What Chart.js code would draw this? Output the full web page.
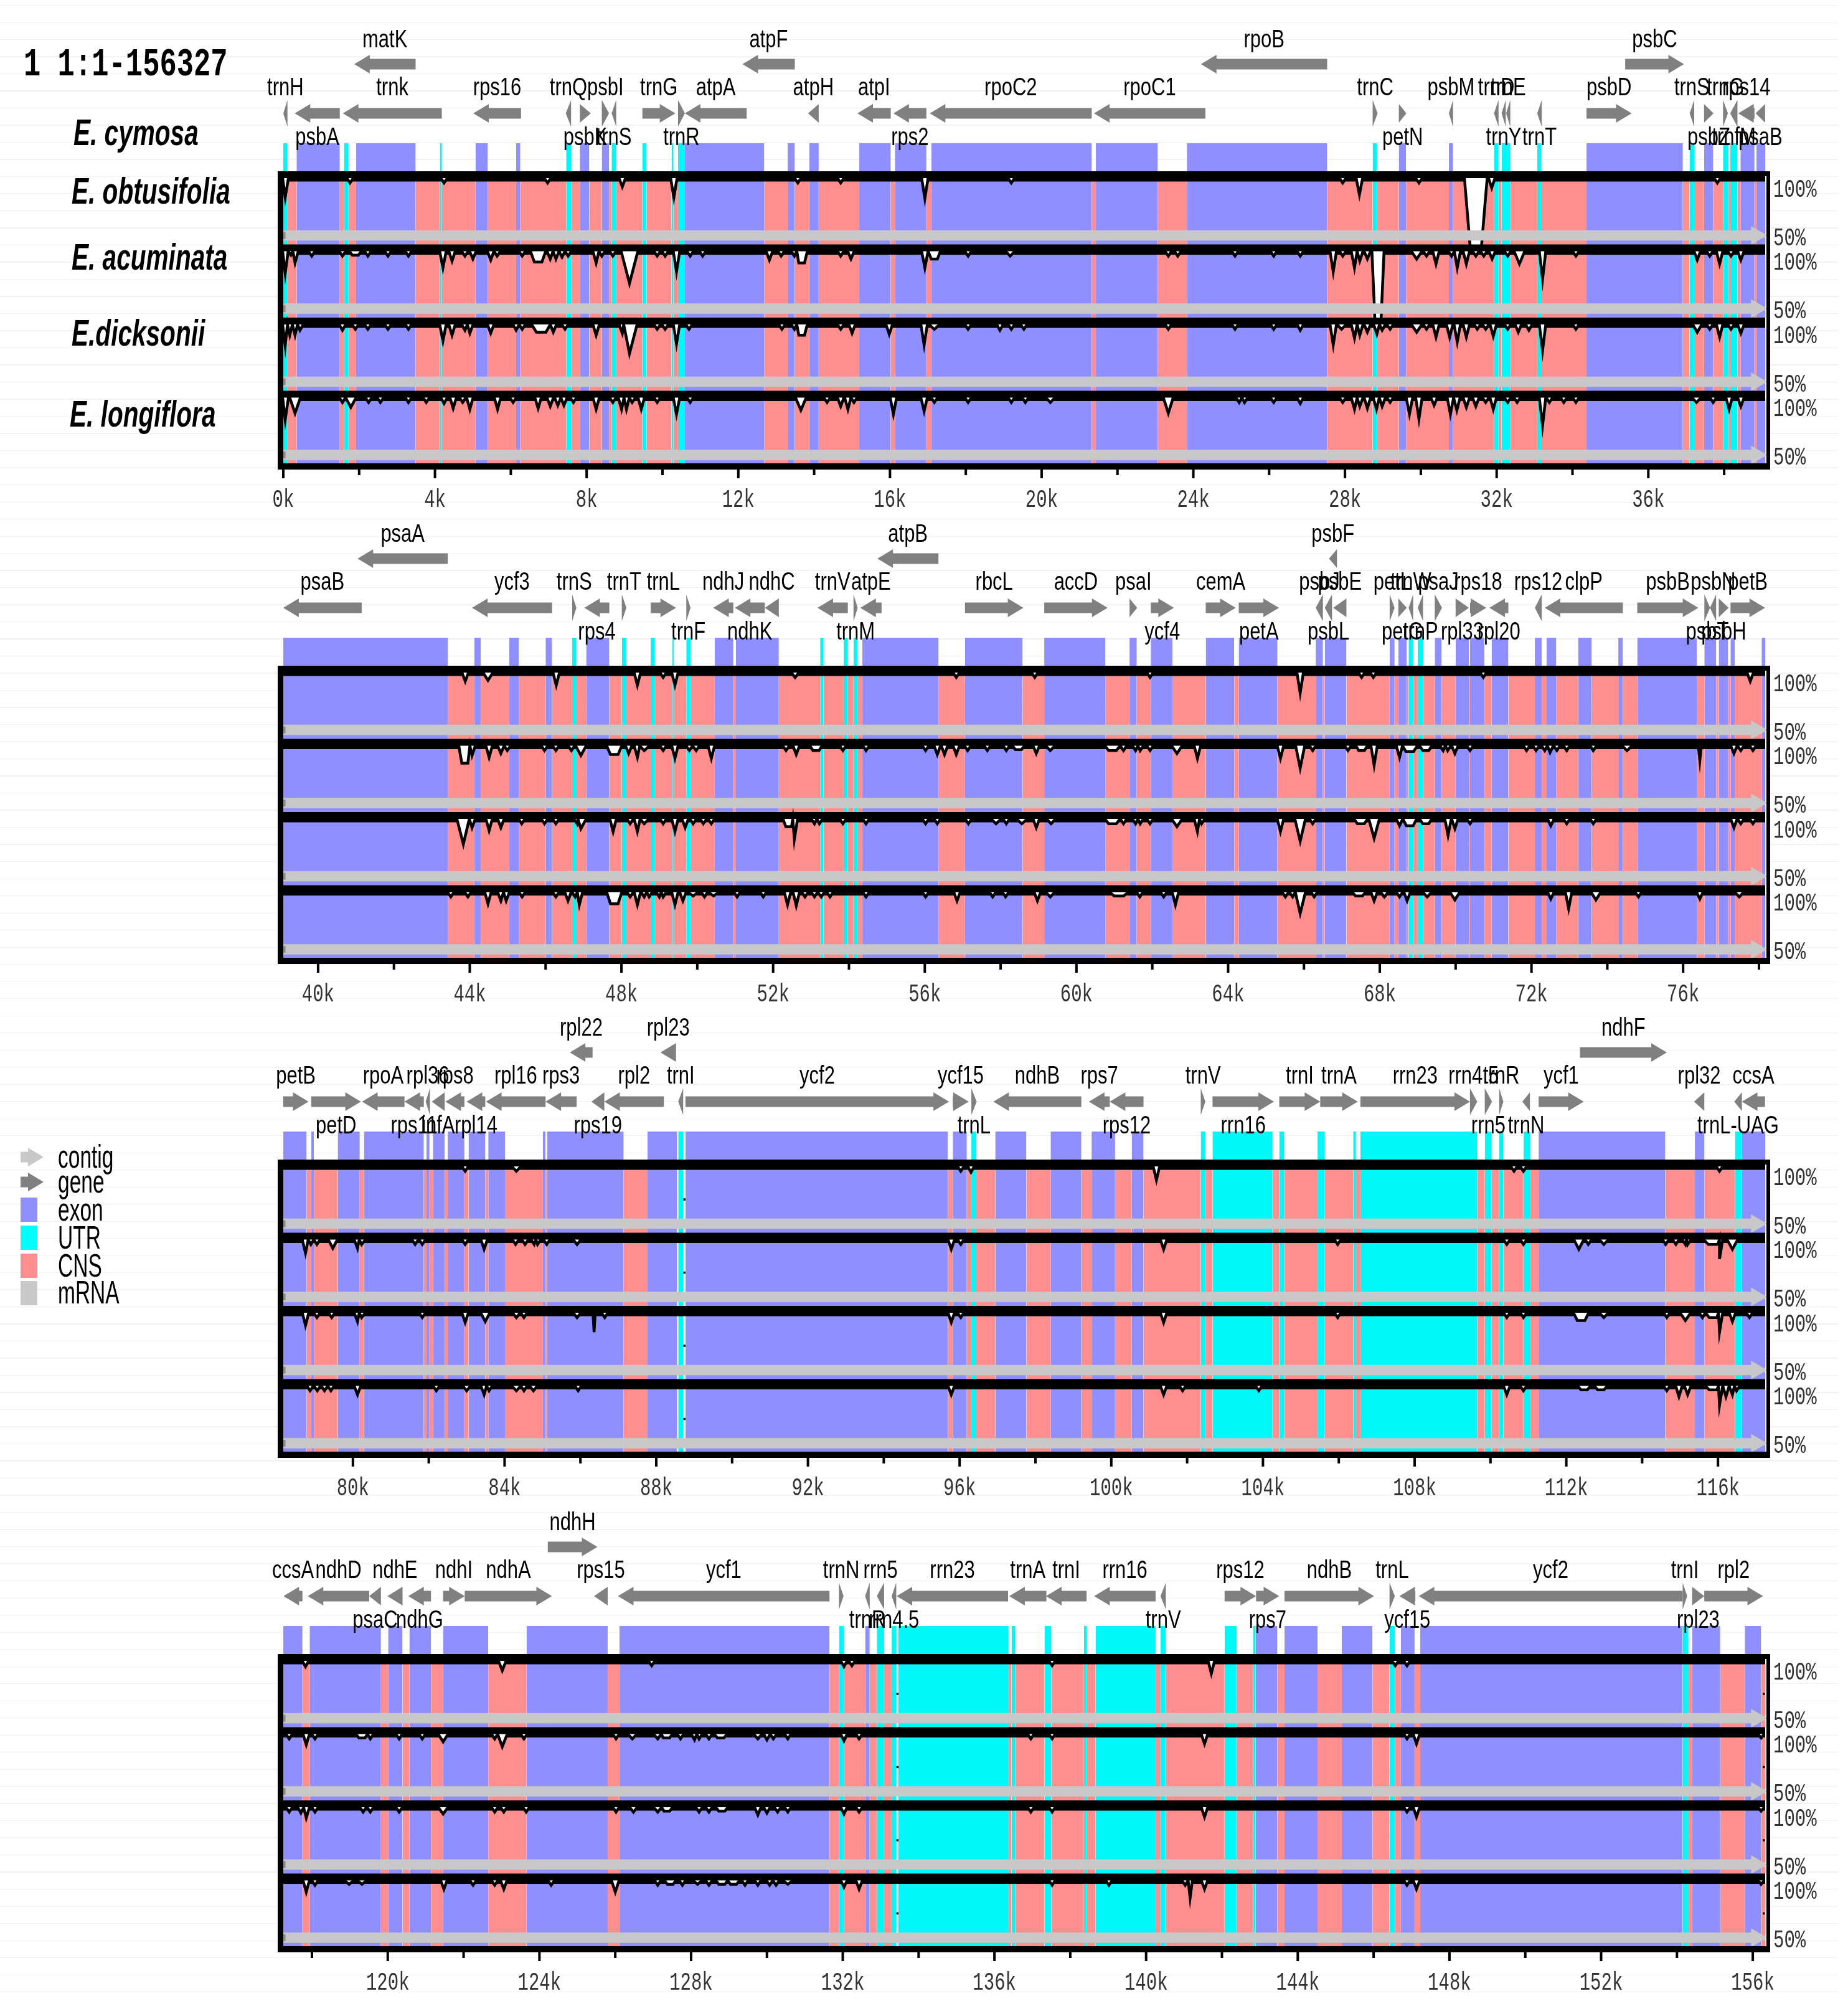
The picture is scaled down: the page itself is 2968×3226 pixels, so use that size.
<!DOCTYPE html>
<html>
<head>
<meta charset="utf-8">
<title>mVISTA plot</title>
<script src="https://cdn.jsdelivr.net/npm/chart.js@4/dist/chart.umd.min.js"></script>
<style>
  html, body { margin: 0; padding: 0; background: #fff; }
  #page { position: relative; width: 2968px; height: 3226px; overflow: hidden; }
  #rules {
    position: absolute; left: 0; top: 8px; width: 2953px; height: 3218px;
    background: repeating-linear-gradient(to bottom, #f2f2f2 0, #f2f2f2 1px, transparent 1px, transparent 27.5px);
  }
  canvas { position: absolute; left: 0; }
</style>
</head>
<body>
<div id="page"><div id="rules"></div></div>
<script>
// values are in kb along the plastome, conservation in %
const species = ["E. cymosa", "E. obtusifolia", "E. acuminata", "E.dicksonii", "E. longiflora"];
const pctTicks = [100, 50];
const ranges = [[0, 39.082], [39.082, 78.164], [78.164, 117.245], [117.245, 156.327]];
const kTicks1 = [0, 2, 4, 6, 8, 10, 12, 14, 16, 18, 20, 22, 24, 26, 28, 30, 32, 34, 36, 38];
const kTicks2 = [40, 42, 44, 46, 48, 50, 52, 54, 56, 58, 60, 62, 64, 66, 68, 70, 72, 74, 76, 78];
const kTicks3 = [80, 82, 84, 86, 88, 90, 92, 94, 96, 98, 100, 102, 104, 106, 108, 110, 112, 114, 116];
const kTicks4 = [118, 120, 122, 124, 126, 128, 130, 132, 134, 136, 138, 140, 142, 144, 146, 148, 150, 152, 154, 156];

// ------- genes: [name, tail, tip] -------
const top1 = [["matK", 3.49, 1.87], ["atpF", 13.49, 12.11], ["rpoB", 27.53, 24.2], ["psbC", 35.39, 36.94]];
const above1 = [["trnH", 0.11, 0], ["trnk", 4.18, 1.57], ["rps16", 6.27, 5.01], ["trnQ", 7.59, 7.45], ["psbI", 8.4, 8.59], ["trnG", 9.47, 10.34], ["atpA", 12.22, 10.59], ["atpH", 14.12, 13.84], ["atpI", 16.02, 15.14], ["rpoC2", 21.32, 17.05], ["rpoC1", 24.32, 21.38], ["trnC", 28.73, 28.86], ["psbM", 30.85, 30.74], ["trnD", 32.05, 31.93], ["trnE", 32.36, 32.25], ["psbD", 34.37, 35.56], ["trnS", 37.21, 37.09], ["trnG", 37.97, 38.1], ["rps14", 38.8, 38.37]];
const below1 = [["psbA", 1.49, 0.3], ["psbK", 7.82, 8.11], ["trnS", 8.78, 8.66], ["trnR", 10.41, 10.59], ["rps2", 16.96, 16.09], ["petN", 29.42, 29.62], ["trnY", 32.24, 32.13], ["trnT", 33.19, 33.07], ["psbZ", 37.47, 37.72], ["trnfM", 38.35, 38.16], ["psaB", 39.08, 38.83]];

const top2 = [["psaA", 43.42, 41.04], ["atpB", 56.36, 54.75], ["psbF", 66.87, 66.66]];
const above2 = [["psaB", 41.15, 39.08], ["ycf3", 46.17, 44.06], ["trnS", 46.7, 46.81], ["trnT", 48.01, 48.13], ["trnL", 48.77, 49.44], ["ndhJ", 50.95, 50.42], ["ndhC", 52.15, 51.78], ["trnV", 53.97, 53.17], ["atpE", 54.86, 54.3], ["rbcL", 57.06, 58.6], ["accD", 59.15, 60.82], ["psaI", 61.4, 61.6], ["cemA", 63.41, 64.2], ["psbJ", 66.5, 66.31], ["psbE", 67.12, 66.77], ["petL", 68.26, 68.39], ["trnW", 68.88, 68.76], ["psaJ", 69.45, 69.64], ["rps18", 70.38, 70.81], ["rps12", 72.27, 72.09], ["clpP", 74.41, 72.35], ["psbB", 74.79, 76.4], ["psbN", 76.87, 76.71], ["petB", 77.25, 78.16]];
const below2 = [["rps4", 47.68, 47.02], ["trnF", 49.71, 49.82], ["ndhK", 51.78, 50.99], ["trnM", 54.12, 54.23], ["ycf4", 61.96, 62.57], ["petA", 64.28, 65.34], ["psbL", 66.74, 66.55], ["petG", 68.49, 68.71], ["trnP", 69.14, 69.0], ["rpl33", 70.0, 70.35], ["rpl20", 71.39, 70.89], ["psbT", 76.56, 76.71], ["psbH", 76.94, 77.2]];

const top3 = [["rpl22", 86.32, 85.72], ["rpl23", 88.52, 88.11], ["ndhF", 112.36, 114.65]];
const above3 = [["petB", 78.16, 78.83], ["rpoA", 81.36, 80.24], ["rpl36", 82.03, 81.92], ["rps8", 82.94, 82.44], ["rpl16", 85.08, 83.51], ["rps3", 85.9, 85.08], ["rpl2", 88.2, 86.63], ["trnI", 88.71, 88.58], ["ycf2", 88.77, 95.72], ["ycf15", 95.82, 96.24], ["ndhB", 99.21, 96.89], ["rps7", 99.96, 99.41], ["trnV", 102.36, 102.48], ["trnI", 104.43, 105.51], ["trnA", 105.51, 106.5], ["rrn23", 106.57, 109.46], ["rrn4.5", 109.46, 109.65], ["trnR", 110.23, 110.34], ["ycf1", 111.27, 112.46], ["rpl32", 115.64, 115.37], ["ccsA", 117.24, 116.63]];
const below3 = [["petD", 78.9, 80.21], ["rps11", 81.87, 81.36], ["infA", 82.42, 82.08], ["rpl14", 83.49, 83.0], ["rps19", 86.63, 86.29], ["trnL", 96.31, 96.45], ["rps12", 100.85, 99.96], ["rrn16", 102.67, 104.29], ["rrn5", 109.85, 110.04], ["trnN", 111.04, 110.84], ["trnL-UAG", 116.63, 116.43]];

const top4 = [["ndhH", 124.22, 125.53]];
const above4 = [["ccsA", 117.75, 117.25], ["ndhD", 119.51, 117.89], ["ndhE", 120.39, 119.99], ["ndhI", 121.46, 122.03], ["ndhA", 122.03, 124.33], ["rps15", 125.8, 125.44], ["ycf1", 131.65, 126.07], ["trnN", 131.9, 132.02], ["rrn5", 133.09, 132.9], ["rrn23", 136.36, 133.42], ["trnA", 137.37, 136.39], ["trnI", 138.43, 137.36], ["rrn16", 140.25, 138.63], ["rps12", 142.07, 142.9], ["ndhB", 143.65, 146.01], ["trnL", 146.42, 146.56], ["ycf2", 154.15, 147.19], ["trnI", 154.15, 154.27], ["rpl2", 154.72, 156.27]];
const below4 = [["psaC", 119.82, 119.51], ["ndhG", 121.14, 120.54], ["trnR", 132.71, 132.59], ["rrn4.5", 133.41, 133.29], ["trnV", 140.52, 140.38], ["rps7", 142.9, 143.51], ["ycf15", 147.1, 146.68], ["rpl23", 154.4, 154.72]];

// ------- annotated bands: [start, end] -------
const exon1 = [[0.35, 1.49], [1.92, 3.49], [5.07, 5.39], [6.14, 6.25], [7.82, 8.07], [8.4, 8.59], [10.59, 12.68], [13.3, 13.49], [13.87, 14.12], [15.19, 16.02], [16.13, 16.96], [17.09, 21.32], [21.43, 23.06], [23.83, 27.53], [29.42, 29.61], [30.74, 30.85], [34.37, 36.91], [37.47, 37.71], [38.43, 38.8], [38.85, 39.082]];
const utr1 = [[0, 0.1], [1.6, 1.71], [4.13, 4.18], [7.46, 7.59], [8.66, 8.77], [9.47, 9.58], [10.24, 10.29], [10.41, 10.59], [28.73, 28.84], [31.93, 32.05], [32.13, 32.36], [33.07, 33.17], [37.09, 37.21], [37.97, 38.1], [38.16, 38.35]];
const cns1 = [[0.1, 0.35], [1.49, 1.6], [1.71, 1.92], [3.49, 4.13], [4.18, 5.07], [5.39, 6.14], [6.25, 7.46], [7.59, 7.82], [8.07, 8.4], [8.59, 8.66], [8.77, 9.47], [9.58, 10.24], [10.29, 10.41], [12.68, 13.3], [13.49, 13.87], [14.12, 15.19], [16.02, 16.13], [16.96, 17.09], [21.32, 21.43], [23.06, 23.83], [27.53, 28.73], [28.84, 29.42], [29.61, 30.74], [30.85, 31.93], [32.05, 32.13], [32.36, 33.07], [33.17, 34.37], [36.91, 37.09], [37.21, 37.47], [37.71, 37.97], [38.1, 38.16], [38.35, 38.43], [38.8, 38.85]];

const exon2 = [[39.082, 43.42], [44.12, 44.29], [45.04, 45.29], [46.0, 46.17], [47.07, 47.68], [50.46, 50.95], [51.02, 52.15], [54.35, 56.36], [57.06, 58.58], [59.15, 60.76], [61.4, 61.59], [61.96, 62.53], [63.41, 64.16], [64.28, 65.3], [66.31, 66.5], [66.55, 67.12], [68.26, 68.39], [68.49, 68.71], [69.45, 69.63], [70.0, 70.35], [70.38, 70.76], [70.95, 71.39], [72.09, 72.27], [72.4, 72.65], [73.23, 73.59], [74.29, 74.41], [74.79, 76.36], [76.56, 76.87], [76.94, 77.18], [77.25, 77.36], [78.07, 78.164]];
const utr2 = [[46.7, 46.8], [48.01, 48.13], [48.77, 48.87], [49.34, 49.38], [49.71, 49.82], [53.24, 53.33], [53.86, 53.97], [54.12, 54.22], [68.76, 68.88], [69.0, 69.14]];
const cns2 = [[43.42, 44.12], [44.29, 45.04], [45.29, 46.0], [46.17, 46.7], [46.8, 47.07], [47.68, 48.01], [48.13, 48.77], [48.87, 49.34], [49.38, 49.71], [49.82, 50.46], [50.95, 51.02], [52.15, 53.24], [53.33, 53.86], [53.97, 54.12], [54.22, 54.35], [56.36, 57.06], [58.58, 59.15], [60.76, 61.4], [61.59, 61.96], [62.53, 63.41], [64.16, 64.28], [65.3, 66.31], [66.5, 66.55], [67.12, 68.26], [68.39, 68.49], [68.71, 68.76], [68.88, 69.0], [69.14, 69.45], [69.63, 70.0], [70.35, 70.38], [70.76, 70.95], [71.39, 72.09], [72.27, 72.4], [72.65, 73.23], [73.59, 74.29], [74.41, 74.79], [76.36, 76.56], [76.87, 76.94], [77.18, 77.25], [77.36, 78.07]];

const exon3 = [[78.164, 78.78], [78.9, 78.97], [79.6, 80.18], [80.29, 81.87], [81.94, 82.02], [82.11, 82.42], [82.5, 82.94], [83.05, 83.49], [83.57, 84.01], [85.01, 85.08], [85.12, 87.14], [87.77, 88.55], [88.77, 95.69], [95.82, 96.19], [96.94, 97.76], [98.4, 99.21], [99.48, 100.1], [100.54, 100.85], [111.27, 114.61], [115.39, 115.64], [116.63, 117.245]];
const utr3 = [[88.58, 88.71], [96.31, 96.44], [102.36, 102.48], [102.67, 104.25], [104.43, 104.56], [105.44, 105.63], [106.38, 106.44], [106.57, 109.65], [109.85, 110.03], [110.23, 110.34], [110.87, 111.04], [116.45, 116.63]];
const cns3 = [[78.78, 78.9], [78.97, 79.6], [80.18, 80.29], [81.87, 81.94], [82.02, 82.11], [82.42, 82.5], [82.94, 83.05], [83.49, 83.57], [84.01, 85.01], [85.08, 85.12], [87.14, 87.77], [95.69, 95.82], [96.19, 96.31], [96.44, 96.94], [97.76, 98.4], [99.21, 99.48], [100.1, 100.54], [100.85, 102.36], [102.48, 102.67], [104.25, 104.43], [104.56, 105.44], [105.63, 106.38], [106.44, 106.57], [109.65, 109.85], [110.03, 110.23], [110.34, 110.87], [111.04, 111.27], [114.61, 115.39], [115.64, 116.45]];

const exon4 = [[117.245, 117.75], [117.94, 119.82], [120.01, 120.39], [120.57, 121.14], [121.46, 122.65], [123.66, 125.8], [126.11, 131.65], [132.59, 132.71], [142.89, 143.46], [143.65, 144.52], [145.16, 145.97], [146.72, 147.08], [147.23, 154.15], [154.4, 155.14], [155.79, 156.22]];
const utr4 = [[131.9, 132.03], [132.9, 133.09], [133.29, 133.41], [133.46, 136.36], [136.45, 136.55], [137.32, 137.5], [138.36, 138.43], [138.67, 140.25], [140.38, 140.52], [142.07, 142.39], [142.82, 142.89], [146.42, 146.56], [154.15, 154.29]];
const cns4 = [[117.75, 117.94], [119.82, 120.01], [120.39, 120.57], [121.14, 121.46], [122.65, 123.66], [125.8, 126.11], [131.65, 131.9], [132.03, 132.59], [132.71, 132.9], [133.09, 133.29], [136.36, 136.45], [136.55, 137.32], [137.5, 138.36], [138.43, 138.67], [140.25, 140.38], [140.52, 142.07], [142.39, 142.82], [143.46, 143.65], [144.52, 145.16], [145.97, 146.42], [146.56, 146.72], [147.08, 147.23], [154.29, 154.4], [155.14, 155.79], [156.22, 156.327]];

// ------- conservation dips: [position, %, half width] -------
const dips1obt = [[0.05, 80], [1.76, 95], [4.24, 95], [6.97, 95], [8.94, 91], [10.3, 80], [13.57, 95], [14.7, 95], [16.92, 79], [19.2, 95], [27.94, 95], [28.38, 83], [29.95, 95], [31.45, 30, 0.3], [31.87, 90], [37.82, 95]];
const dips1acu = [[0.05, 77], [0.2, 96, 0.08], [0.31, 88], [0.75, 95], [1.56, 95], [1.9, 96, 0.16], [2.23, 95], [2.76, 95], [3.3, 95], [4.21, 83], [4.45, 90], [4.79, 95], [5.0, 92], [5.47, 91], [5.64, 95], [6.3, 95], [6.72, 89, 0.2], [7.04, 92], [7.19, 92], [7.35, 94], [7.51, 95], [8.25, 88], [8.4, 95], [8.69, 95], [9.13, 67, 0.22], [9.86, 95], [10.07, 95], [10.37, 79], [10.73, 95], [11.06, 95], [12.82, 91], [13.13, 95], [13.48, 95], [13.67, 88, 0.15], [14.7, 95], [14.97, 92], [16.92, 83], [17.17, 92, 0.16], [18.06, 95], [19.17, 95, 0.12], [23.34, 95], [23.59, 95], [25.1, 95], [26.12, 95], [26.82, 95], [27.69, 79], [27.94, 95], [28.25, 83], [28.39, 90], [28.59, 92], [28.87, 28, 0.16], [29.89, 92, 0.14], [30.15, 95], [30.4, 87], [30.81, 95], [30.96, 83], [31.2, 87], [31.45, 95], [31.66, 95], [31.88, 92], [32.29, 95], [32.6, 87, 0.14], [33.21, 71], [34.09, 95], [37.29, 91], [37.62, 95], [37.88, 87], [38.18, 95], [38.44, 91]];
const dips1dic = [[0.05, 78], [0.17, 89], [0.31, 89], [0.44, 94], [1.56, 94], [1.9, 95], [2.23, 95], [2.76, 95], [3.3, 95], [4.21, 83], [4.45, 89], [4.79, 94], [4.92, 91], [5.47, 91], [6.14, 94], [6.3, 95], [6.8, 92, 0.25], [7.12, 92], [7.43, 95], [8.25, 89], [8.94, 91], [9.13, 70, 0.2], [9.86, 95], [10.07, 95], [10.37, 80], [10.7, 95], [13.15, 95], [13.48, 95], [13.67, 89, 0.15], [14.7, 95], [15.0, 91], [15.98, 90], [16.9, 79], [17.17, 95, 0.14], [18.06, 95], [18.9, 94], [19.2, 95], [19.53, 95], [23.34, 95], [25.1, 95], [26.12, 95], [26.82, 94], [27.69, 79], [27.91, 95, 0.12], [28.25, 86], [28.39, 89], [28.59, 92], [28.84, 90], [28.98, 94], [29.19, 95], [29.89, 92, 0.14], [30.15, 95], [30.4, 87], [30.76, 87], [30.96, 82], [31.2, 87], [31.49, 95], [31.71, 95], [31.91, 88], [32.29, 95], [32.57, 92], [32.85, 94], [33.21, 73], [34.09, 95], [37.29, 92, 0.12], [37.62, 95], [37.88, 87], [38.18, 95], [38.44, 91]];
const dips1lon = [[0.05, 77], [0.31, 84, 0.14], [1.56, 95], [1.78, 90, 0.14], [2.25, 95], [2.56, 95], [3.3, 95], [3.77, 95], [4.24, 94], [4.48, 89], [4.73, 95], [4.92, 88], [5.65, 88], [6.06, 95], [6.72, 89], [7.04, 91], [7.24, 92], [7.4, 92], [7.65, 95], [8.25, 88], [8.69, 95], [8.92, 88], [9.05, 88], [9.2, 95], [9.44, 88], [9.86, 95], [10.37, 83], [10.73, 95], [13.65, 87, 0.14], [14.34, 95], [14.7, 91], [14.89, 88], [15.05, 95], [16.09, 83], [16.9, 86], [17.17, 95], [18.06, 95], [19.2, 95], [19.57, 95], [20.23, 95, 0.12], [23.34, 84, 0.13], [25.21, 95], [25.35, 95], [26.12, 95], [26.82, 94], [27.94, 95], [28.25, 88], [28.39, 91], [28.59, 89], [28.83, 88], [28.98, 91], [29.19, 95], [29.7, 83], [29.95, 78], [30.35, 92], [30.78, 83], [30.95, 87], [31.2, 90], [31.45, 91], [31.71, 95], [31.91, 88], [32.29, 95], [32.54, 95], [33.21, 71], [33.39, 95], [33.77, 95], [34.09, 95], [37.27, 95, 0.12], [37.71, 95], [38.13, 88], [38.44, 91]];

const dips2obt = [[43.88, 91], [44.48, 92, 0.13], [46.28, 87], [48.42, 87], [49.1, 95], [49.41, 87], [52.58, 95, 0.1], [56.83, 95], [58.9, 95], [61.94, 95], [65.9, 79], [67.52, 95], [67.83, 95], [70.73, 95], [77.77, 91]];
const dips2acu = [[43.87, 82, 0.16], [44.06, 90], [44.51, 88], [44.82, 92], [44.99, 95], [45.97, 95], [46.27, 95], [46.68, 95], [46.93, 90, 0.14], [47.81, 91, 0.2], [48.19, 92], [48.42, 88], [48.6, 95, 0.14], [49.1, 95], [49.41, 87], [49.79, 95], [49.97, 95], [50.37, 87], [52.34, 95], [52.61, 91], [53.13, 95, 0.16], [53.84, 95], [54.45, 95], [56.02, 95], [56.33, 91], [56.52, 91], [56.83, 91], [57.13, 95], [57.65, 95], [58.15, 95], [58.47, 96, 0.16], [58.94, 92], [59.31, 95, 0.12], [60.95, 95, 0.2], [61.24, 95], [61.56, 95], [61.68, 95], [61.94, 95], [62.65, 92, 0.14], [63.19, 87], [65.38, 87], [65.9, 77, 0.12], [66.23, 95], [67.16, 95], [67.52, 95, 0.15], [67.85, 80], [68.52, 88], [68.79, 94, 0.2], [69.21, 95, 0.16], [69.67, 95], [69.79, 95], [69.98, 92], [70.38, 95], [71.87, 95], [72.12, 95], [72.35, 95], [72.49, 93], [72.67, 95], [72.93, 95], [73.63, 95], [74.52, 95, 0.13], [76.44, 85, 0.04], [77.34, 92], [77.52, 95], [77.84, 95]];
const dips2dic = [[43.83, 74, 0.17], [44.06, 91], [44.51, 88], [44.82, 91], [45.37, 95], [45.97, 95], [46.27, 95], [46.83, 95], [46.93, 90, 0.14], [47.78, 87], [48.23, 95], [48.42, 87], [48.6, 95, 0.12], [49.1, 95], [49.41, 87], [49.68, 91], [49.89, 95], [50.16, 95], [50.37, 95], [52.41, 92, 0.15], [52.56, 79], [53.09, 95], [53.22, 95], [53.84, 95], [54.45, 95], [56.02, 95], [56.33, 95], [57.15, 95], [57.88, 95, 0.13], [58.15, 95], [58.56, 95, 0.14], [58.94, 91], [59.33, 95, 0.12], [60.95, 95, 0.2], [61.24, 95], [61.56, 95], [61.68, 95], [61.94, 95], [62.65, 92, 0.14], [63.19, 87], [63.3, 95], [65.38, 87], [65.9, 77, 0.14], [66.23, 95], [67.5, 95, 0.18], [67.85, 80, 0.14], [68.52, 93], [68.79, 93, 0.18], [69.21, 95, 0.16], [69.8, 83], [69.98, 90], [70.38, 95], [72.51, 93], [72.93, 95], [73.63, 95], [77.34, 91], [77.52, 95], [77.84, 95]];
const dips2lon = [[43.5, 95], [43.95, 95], [44.48, 88], [44.82, 91], [44.96, 91], [45.38, 95], [46.27, 95], [46.59, 91], [46.78, 95], [46.89, 87], [47.81, 88, 0.2], [48.23, 95], [48.42, 87], [48.6, 95], [48.73, 95], [49.0, 95], [49.1, 95], [49.41, 87], [49.62, 91], [49.89, 96, 0.14], [50.19, 95], [50.43, 96, 0.14], [51.05, 95], [51.74, 95], [52.38, 87], [52.61, 86], [52.84, 95], [53.09, 95], [53.27, 95], [53.5, 95], [54.45, 95], [56.02, 95], [56.85, 91], [57.79, 95], [58.13, 95], [58.97, 91], [59.31, 95, 0.12], [61.12, 96, 0.25], [61.67, 95], [62.3, 95], [62.61, 87], [65.51, 95], [65.7, 95], [65.9, 78, 0.14], [66.27, 95], [67.45, 96, 0.18], [67.85, 91], [68.12, 95, 0.1], [68.52, 95], [68.72, 91], [69.25, 95, 0.12], [69.98, 92, 0.13], [72.51, 93], [72.98, 83], [73.7, 92, 0.13], [74.82, 95], [76.44, 93], [77.48, 95, 0.12]];

const dips3obt = [[82.96, 95], [84.31, 95, 0.12], [96.03, 95], [96.3, 94], [101.19, 86], [110.62, 95], [110.87, 95], [116.04, 95]];
const dips3acu = [[78.75, 86], [78.89, 95], [79.05, 95], [79.47, 91, 0.12], [80.12, 91], [80.23, 95, 0.1], [81.64, 95], [81.83, 95], [82.96, 95], [83.46, 90], [84.29, 95], [84.54, 95], [84.78, 95], [84.87, 95], [85.11, 95], [85.91, 95, 0.1], [95.78, 90], [96.03, 95], [101.38, 90], [105.97, 95], [110.43, 95], [110.87, 95], [112.33, 90, 0.13], [112.58, 95], [112.99, 95, 0.12], [114.62, 95], [114.89, 95], [115.14, 95], [115.2, 95], [115.87, 95, 0.25], [116.04, 80], [116.38, 90, 0.14]];
const dips3dic = [[78.75, 87], [79.05, 95], [79.44, 95], [80.12, 91], [80.23, 95, 0.1], [81.83, 95], [82.96, 90], [83.49, 91, 0.12], [84.31, 95, 0.1], [84.51, 95], [85.91, 95, 0.1], [86.36, 80, 0.03], [86.64, 95], [95.78, 90], [96.03, 95], [101.38, 90], [105.97, 95], [110.43, 95], [110.87, 95], [112.39, 92, 0.2], [112.99, 95, 0.12], [114.65, 95], [115.14, 92, 0.14], [115.59, 95], [115.87, 95, 0.2], [116.04, 80], [116.38, 91], [116.83, 95]];
const dips3lon = [[78.87, 95], [79.06, 95], [79.25, 95], [79.42, 95], [80.12, 91], [82.2, 95], [83.0, 95, 0.1], [83.46, 91], [83.59, 95], [84.31, 95, 0.12], [84.51, 95], [84.76, 95, 0.1], [85.94, 95], [95.78, 91], [101.38, 91], [101.88, 95], [103.89, 95], [110.43, 91], [110.87, 95], [112.47, 96, 0.17], [112.91, 96, 0.17], [114.65, 95], [114.97, 89], [115.2, 91], [115.87, 96, 0.2], [116.04, 80], [116.21, 89], [116.38, 91], [116.49, 95]];

const dips4obt = [[117.83, 94], [123.02, 90, 0.1], [126.96, 95], [132.03, 94], [132.24, 95], [137.52, 95], [141.72, 87], [146.57, 95], [146.88, 95]];
const dips4acu = [[117.4, 95], [117.85, 89], [118.08, 95], [119.32, 96, 0.16], [119.54, 95], [120.3, 95], [120.91, 95], [121.46, 92, 0.13], [122.82, 95], [123.02, 87, 0.13], [123.59, 95], [126.02, 95], [126.45, 95, 0.12], [127.12, 95, 0.11], [127.35, 96, 0.16], [127.72, 95], [128.09, 94], [128.21, 95], [128.47, 95], [128.78, 96, 0.17], [129.76, 95, 0.11], [130.0, 94], [130.17, 95], [130.55, 95], [132.03, 93], [132.43, 95], [136.96, 95], [137.52, 95], [141.54, 90], [146.88, 95], [147.13, 90], [156.22, 96]];
const dips4dic = [[117.4, 95], [117.71, 94], [117.85, 89], [118.08, 95], [119.35, 95], [119.54, 95], [120.3, 95], [121.46, 93, 0.13], [122.82, 95], [123.06, 95], [123.65, 95], [126.02, 95], [126.48, 95, 0.1], [127.12, 95, 0.11], [127.36, 96, 0.15], [128.21, 95], [128.47, 95], [128.81, 96, 0.16], [129.76, 92], [130.0, 94], [130.28, 95], [130.55, 95], [132.03, 93], [132.43, 95], [136.96, 95], [137.52, 95], [141.54, 90], [146.88, 95], [147.13, 90], [156.22, 96]];
const dips4lon = [[117.85, 88], [118.08, 95], [118.98, 96, 0.12], [119.32, 96, 0.12], [121.48, 91], [122.25, 95], [122.82, 95], [123.06, 91], [124.31, 95], [126.0, 88, 0.1], [127.12, 95], [127.45, 96, 0.15], [127.77, 95], [128.17, 96, 0.12], [128.47, 95], [128.81, 96, 0.16], [129.12, 96, 0.16], [129.42, 95], [129.76, 95], [130.07, 95], [130.24, 95], [130.55, 96, 0.13], [132.03, 93], [132.43, 91], [137.52, 95], [139.02, 95], [141.03, 95], [141.16, 82, 0.06], [141.54, 91], [146.88, 95], [147.13, 91], [156.22, 96]];

// single-pixel specks of the conservation curve in the narrow unaligned slivers
const specks3 = [88.74];
const specks4 = [133.44, 156.29];
const speckLevel = 66;

const legendNames = ["contig", "gene", "exon", "UTR", "CNS", "mRNA"];

// ------- layout and colours -------
const panelTop = [275, 1068.5, 1862, 2656];
const FRAME_Y = 232;                  // frame top inside each canvas
const CANVAS_H = 800;
const PLOT_L = 455, PLOT_R = 2835;
const TRACK_STEP = 117.5, P100 = 11, PX_PER_PCT = 1.56;
const BAND_TOP = -45, CNS_TOP = 0, BAND_BOTTOM = 469;
const AREA_H = FRAME_Y + BAND_BOTTOM;
const EXON = "#8f8fff", UTR = "#00f8f8", CNS = "#ff8f8f", MRNA = "#c8c8c8", GENE = "#808080";
const SANS = '"Liberation Sans", Arial, sans-serif', MONO = '"Liberation Mono", monospace';

function bandData(list, level) {
  let pts = [];
  list.forEach((b) => {
    pts.push({ x: b[0], y: level }, { x: b[1], y: level }, { x: b[1], y: null });
  });
  return pts;
}

function curveData(dips, range) {
  let pts = [{ x: range[0], y: 100 }];
  dips.slice().sort((a, b) => a[0] - b[0]).forEach((d) => {
    let k = d[0], v = d[1], w = d[2] || 0.085;
    let last = pts[pts.length - 1];
    if (last.x > k - w) last.x = (last.x + k - w) / 2;
    else pts.push({ x: k - w, y: 100 });
    // broad dips have a flat floor, except the deep V shaped ones
    if (w >= 0.15 && (v >= 80 || v < 35)) pts.push({ x: k - w / 2, y: v }, { x: k + w / 2, y: v });
    else pts.push({ x: k, y: v });
    pts.push({ x: k + w, y: 100 });
  });
  pts.push({ x: range[1], y: 100 });
  return pts;
}

function bandSet(label, data, color) {
  return { label: label, data: data, yAxisID: "yBand", fill: { value: 0 }, backgroundColor: color, borderWidth: 0, pointRadius: 0 };
}

function trackSets(t, dips, specks, range) {
  let id = "y" + t;
  let sets = [];
  // black top rule of the track
  sets.push({ label: "rule" + t, data: [{ x: range[0], y: 101.76 }, { x: range[1], y: 101.76 }], yAxisID: id, borderColor: "#000", borderWidth: 16.5, pointRadius: 0 });
  // conservation curve, white between curve and 100 %
  sets.push({ label: species[t + 1], data: curveData(dips, range), yAxisID: id, borderColor: "#000", borderWidth: 4.5, borderJoinStyle: "miter", fill: { value: 100 }, backgroundColor: "#fff", pointRadius: 0, tension: 0 });
  sets.push({ label: "specks" + t, data: specks.map((k) => ({ x: k, y: speckLevel })), yAxisID: id, showLine: false, pointStyle: "rect", pointRadius: 2.5, pointBorderWidth: 0, pointBackgroundColor: "#000" });
  // mRNA contig arrow
  sets.push({ label: "mRNA" + t, data: [{ x: range[0], y: 41 }, { x: range[1] - 0.23, y: 41 }], yAxisID: id, borderColor: MRNA, borderWidth: 16.5, pointStyle: "triangle", pointRotation: 90, pointBackgroundColor: MRNA, pointBorderWidth: 0, pointRadius: (c) => (c.dataIndex === 1 ? 17.3 : 0), clip: false });
  sets.push({ label: "start" + t, data: [{ x: range[0], y: 41 }, { x: range[0] + 0.06, y: 41 }], yAxisID: id, borderColor: "#8e8e8e", borderWidth: 11, pointRadius: 0 });
  return sets;
}

// ------- drawing helpers -------
function stretchedText(ctx, text, x, y, font, sy, align, color) {
  ctx.save();
  ctx.translate(x, y);
  ctx.scale(1, sy);
  ctx.font = font;
  ctx.textAlign = align;
  ctx.textBaseline = "alphabetic";
  ctx.fillStyle = color;
  ctx.fillText(text, 0, 0);
  ctx.restore();
}

function arrow(ctx, x0, x1, yc, color) {
  let dir = x1 >= x0 ? 1 : -1,
    len = Math.abs(x1 - x0),
    head = Math.min(25, len),
    halfHead = len < 12 ? 21.5 : 15,
    halfBody = 8.5;
  ctx.fillStyle = color;
  ctx.beginPath();
  ctx.moveTo(x1, yc);
  ctx.lineTo(x1 - dir * head, yc - halfHead);
  if (len > 25) {
    ctx.lineTo(x1 - dir * head, yc - halfBody);
    ctx.lineTo(x0, yc - halfBody);
    ctx.lineTo(x0, yc + halfBody);
    ctx.lineTo(x1 - dir * head, yc + halfBody);
  }
  ctx.lineTo(x1 - dir * head, yc + halfHead);
  ctx.closePath();
  ctx.fill();
}

function drawPageText(ctx) {
  stretchedText(ctx, "1 1:1-156327", 38, 121 - 43, 'bold 45.5px ' + MONO, 1.37, "left", "#000");
  let xs = [118, 115, 115, 115, 112], ys = [233, 327, 433, 555, 685];
  species.forEach((s, i) => {
    stretchedText(ctx, s, xs[i], ys[i] - 43, 'italic bold 40.6px ' + SANS, 1.47, "left", "#000");
  });
}

function drawLegend(ctx, offset) {
  let base = [1875, 1915, 1960, 2005, 2050, 2093];
  arrow(ctx, 33, 70, 1858 - offset, "#c8c8c8");
  arrow(ctx, 33, 70, 1898 - offset, GENE);
  [[1923, EXON], [1968, "#00ffff"], [2013, CNS], [2057, MRNA]].forEach((r) => {
    ctx.fillStyle = r[1];
    ctx.fillRect(33, r[0] - offset, 27, 39);
  });
  legendNames.forEach((n, i) => {
    stretchedText(ctx, n, 93, base[i] - offset, "33.5px " + SANS, 1.55, "left", "#000");
  });
}

const panelDecor = {
  id: "panelDecor",
  afterDatasetsDraw(chart, args, opts) {
    let ctx = chart.ctx, x = chart.scales.x;

    // frame
    ctx.fillStyle = "#000";
    ctx.fillRect(446, FRAME_Y, 9, 479);
    ctx.fillRect(2837, FRAME_Y, 6, 479);
    ctx.fillRect(446, FRAME_Y + 469, 2397, 10);
    ctx.fillRect(446, FRAME_Y, 2397, 8);

    // x axis tick marks and labels
    x.ticks.forEach((t) => {
      let px = x.getPixelForValue(t.value), major = t.label !== "";
      ctx.fillStyle = "#000";
      ctx.fillRect(px - 2, FRAME_Y + 479, 4, major ? 14 : 9);
      if (major) stretchedText(ctx, t.label, px, FRAME_Y + 538.5, "29px " + MONO, 1.42, "center", "#333");
    });

    // y axis labels
    [0, 1, 2, 3].forEach((i) => {
      let s = chart.scales["y" + i];
      s.ticks.forEach((t) => {
        stretchedText(ctx, t.label, 2848, s.getPixelForValue(t.value) + 29.5, "29px " + MONO, 1.42, "left", "#333");
      });
    });

    // gene rows: arrow and name
    let rows = [
      { genes: opts.top, arrowY: -172, textY: -199.5 },
      { genes: opts.above, arrowY: -93, textY: -122 },
      { genes: opts.below, arrowY: -93, textY: -42 },
    ];
    rows.forEach((r) => {
      r.genes.forEach((g) => {
        let a = x.getPixelForValue(g[1]), b = x.getPixelForValue(g[2]);
        arrow(ctx, a, b, FRAME_Y + r.arrowY, GENE);
      });
    });
    rows.forEach((r) => {
      r.genes.forEach((g) => {
        let a = x.getPixelForValue(g[1]), b = x.getPixelForValue(g[2]);
        stretchedText(ctx, g[0], (a + b) / 2, FRAME_Y + r.textY, "31px " + SANS, 1.3, "center", "#000");
      });
    });

    if (opts.index === 0) drawPageText(ctx);
    if (opts.index === 2) drawLegend(ctx, panelTop[2] - FRAME_Y);
  },
};

// ------- one chart per row of the plot -------
const panels = [
  { ticks: kTicks1, top: top1, above: above1, below: below1, exon: exon1, utr: utr1, cns: cns1, dips: [dips1obt, dips1acu, dips1dic, dips1lon], specks: [] },
  { ticks: kTicks2, top: top2, above: above2, below: below2, exon: exon2, utr: utr2, cns: cns2, dips: [dips2obt, dips2acu, dips2dic, dips2lon], specks: [] },
  { ticks: kTicks3, top: top3, above: above3, below: below3, exon: exon3, utr: utr3, cns: cns3, dips: [dips3obt, dips3acu, dips3dic, dips3lon], specks: specks3 },
  { ticks: kTicks4, top: top4, above: above4, below: below4, exon: exon4, utr: utr4, cns: cns4, dips: [dips4obt, dips4acu, dips4dic, dips4lon], specks: specks4 },
];

function trackScale(t) {
  let rel = FRAME_Y + P100 + TRACK_STEP * t;
  let max = 100 + rel / PX_PER_PCT;
  return {
    type: "linear",
    display: false,
    max: max,
    min: max - AREA_H / PX_PER_PCT,
    afterBuildTicks: (s) => { s.ticks = pctTicks.map((v) => ({ value: v })); },
    ticks: { callback: (v) => v + "%" },
  };
}

panels.forEach((p, i) => {
  let canvas = document.createElement("canvas");
  canvas.width = 2968;
  canvas.height = CANVAS_H;
  canvas.style.top = panelTop[i] - FRAME_Y + "px";
  document.getElementById("page").appendChild(canvas);

  let range = ranges[i];
  let span = BAND_BOTTOM - BAND_TOP;
  let sets = [
    bandSet("CNS", bandData(p.cns, (BAND_BOTTOM - CNS_TOP) / span), CNS),
    bandSet("exon", bandData(p.exon, 1), EXON),
    bandSet("UTR", bandData(p.utr, 1), UTR),
  ];
  p.dips.forEach((d, t) => {
    sets = sets.concat(trackSets(t, d, p.specks, range));
  });
  // chart.js paints the first dataset last
  sets.reverse();

  new Chart(canvas, {
    type: "line",
    data: { datasets: sets },
    plugins: [panelDecor],
    options: {
      responsive: false,
      animation: false,
      events: [],
      layout: { autoPadding: false, padding: { left: PLOT_L, right: 2968 - PLOT_R, top: 0, bottom: CANVAS_H - AREA_H } },
      plugins: {
        legend: { display: false },
        tooltip: { enabled: false },
        panelDecor: { index: i, top: p.top, above: p.above, below: p.below },
      },
      scales: {
        x: {
          type: "linear",
          display: false,
          min: range[0],
          max: range[1],
          afterBuildTicks: (s) => { s.ticks = p.ticks.map((v) => ({ value: v })); },
          ticks: { autoSkip: false, callback: (v) => (v % 4 === 0 ? v + "k" : "") },
        },
        yBand: { type: "linear", display: false, min: 0, max: AREA_H / span },
        y0: trackScale(0),
        y1: trackScale(1),
        y2: trackScale(2),
        y3: trackScale(3),
      },
    },
  });
});
</script>
</body>
</html>
